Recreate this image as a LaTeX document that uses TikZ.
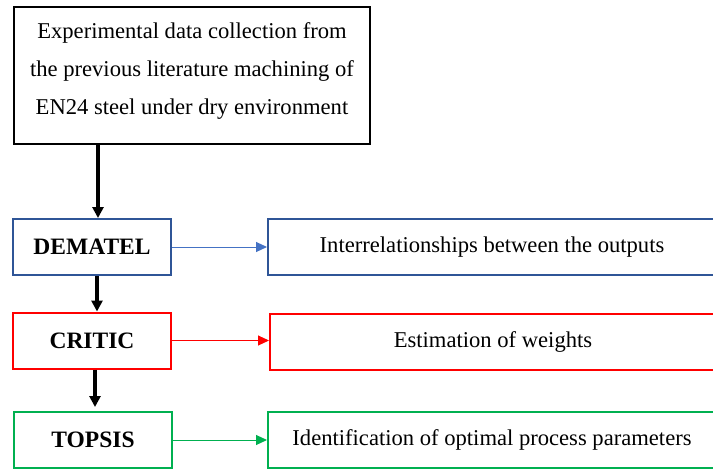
\documentclass[tikz,border=0pt]{standalone}
\usepackage{fontspec}
\setmainfont{Liberation Serif}
\usetikzlibrary{arrows.meta}
\definecolor{dblue}{HTML}{2F5597}
\definecolor{lblue}{HTML}{4472C4}
\definecolor{mred}{HTML}{FF0000}
\definecolor{mgreen}{HTML}{00B050}
\tikzset{
  box/.style={draw, line width=2pt, inner sep=0pt, align=center, font=\fontsize{22.6}{38}\selectfont},
  lbox/.style={box, minimum width=158pt, minimum height=56pt, font=\fontsize{23.5}{25}\selectfont\bfseries},
  rbox/.style={box, minimum width=448pt, minimum height=56pt},
  down/.style={line width=3.5pt, -{Triangle[length=11pt,width=11pt]}},
  side/.style={line width=1pt, -{Triangle[length=11pt,width=10pt]}}
}
\begin{document}
\begin{tikzpicture}[x=1pt,y=-1pt]
\useasboundingbox (0,0) rectangle (713,469);
\node[box, minimum width=356pt, minimum height=137pt, text depth=0pt] (top) at (192,75.5) {\raisebox{52pt}{\parbox{350pt}{\centering Experimental data collection from\\ the previous literature machining of\\ EN24 steel under dry environment}}};
\node[lbox, draw=dblue] (dem) at (92,247) {DEMATEL};
\node[lbox, draw=mred] (crit) at (92,340.5) {CRITIC};
\node[lbox, draw=mgreen] (tops) at (93,440) {TOPSIS};
\node[rbox, draw=dblue] (r1) at (492,247) {Interrelationships between the outputs};
\node[rbox, draw=mred, minimum width=446pt] (r2) at (493,341.5) {Estimation of weights};
\node[rbox, draw=mgreen] (r3) at (492,440) {Identification of optimal process parameters};
\draw[down] ([xshift=6pt]dem.north |- top.south) -- ([xshift=6pt]dem.north);
\draw[down] ([xshift=5pt]dem.south) -- ([xshift=5pt]crit.north);
\draw[down, shorten >=4pt] ([xshift=3pt]crit.south) -- ([xshift=2pt]tops.north);
\draw[side, lblue] (dem.east) -- (r1.west);
\draw[side, mred] (crit.east) -- (crit.east -| r2.west);
\draw[side, mgreen] (tops.east) -- (r3.west);
\end{tikzpicture}
\end{document}
